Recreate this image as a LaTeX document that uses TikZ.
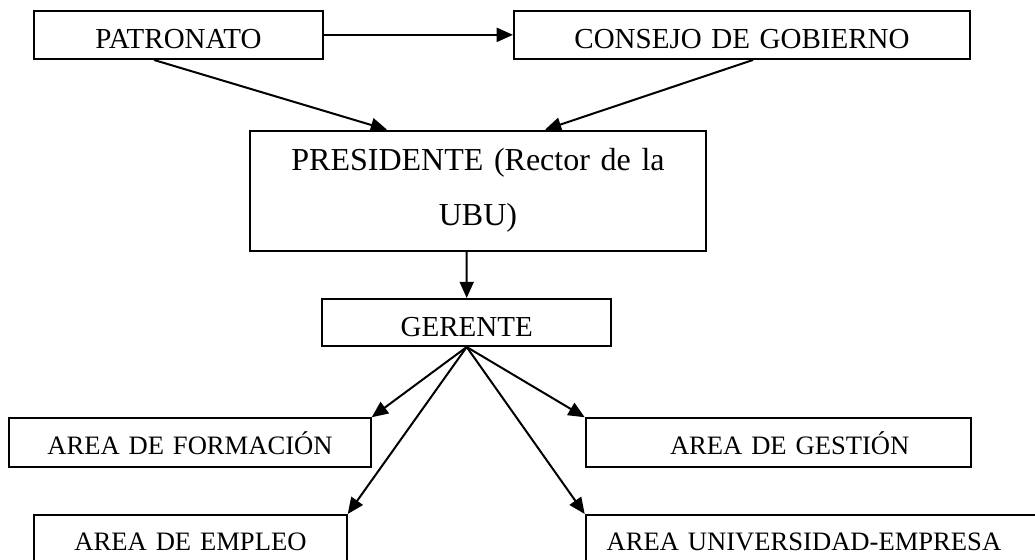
\documentclass[tikz,border=0pt]{standalone}
\usepackage{fontspec}
\setmainfont{Liberation Serif}
\usetikzlibrary{arrows.meta, calc}

\tikzset{
	orgbox/.style = {draw, line width = 0.8pt, inner sep = 0pt},
	toptext/.style = {font = \fontsize{11.6}{14}\selectfont},
	areatext/.style = {font = \fontsize{10.64}{13}\selectfont},
	orgarrow/.style = {line width = 0.8pt, -{Triangle[length = 6.5pt, width = 5.6pt]}}
}

\begin{document}
\begin{tikzpicture}[x = 0.4pt, y = -0.4pt]
		\useasboundingbox (0,0) rectangle (1035,560);
		\clip (0,0) rectangle (1035,560);
		\node [orgbox, toptext, align = center, text width = 115.6pt, text height = 15pt, text depth = 4.3pt] (patronato) at (178.5,34.85) {PATRONATO};
		\node [orgbox, toptext, align = center, text width = 182.4pt, text height = 15pt, text depth = 4.3pt] (consejo) at (742,34.85) {CONSEJO DE GOBIERNO};
		\node [orgbox, align = center, text width = 182.4pt, minimum height = 48pt, font = \fontsize{12.8}{22}\selectfont] (presidente) at (478,190.7) {PRESIDENTE (Rector de la\\UBU)};
		\node [orgbox, toptext, align = center, text width = 115.4pt, text height = 15.1pt, text depth = 3.7pt] (gerente) at (466.7,322.5) {GERENTE};
		\node [orgbox, areatext, align = center, text width = 144.6pt, text height = 14.3pt, text depth = 5.1pt] (formacion) at (190,442.5) {AREA DE FORMACIÓN};
		\node [orgbox, areatext, align = center, text width = 154pt, text height = 14.3pt, text depth = 5.1pt] (gestion) at (778.2,442.5) {\hspace*{9.2pt}AREA DE GESTIÓN};
		\node [orgbox, areatext, align = center, text width = 125pt, text height = 14pt, text depth = 5.2pt] (empleo) at (190.5,539) {AREA DE EMPLEO};
		\node [orgbox, areatext, align = left, text width = 188pt, text height = 14pt, text depth = 5.2pt] (universidad) at (820.7,539) {\hspace*{8.4pt}AREA UNIVERSIDAD-EMPRESA};
		\draw [orgarrow] (patronato.east) -- (consejo.west);
		\draw [orgarrow] ($(patronato.south)+(-24.5,0)$) -- ($(presidente.north)+(-91,0)$);
		\draw [orgarrow] ($(consejo.south)+(11,0)$) -- ($(presidente.north)+(67,0)$);
		\draw [orgarrow] ($(presidente.south)+(-11.3,0)$) -- (gerente.north);
		\draw [orgarrow] (gerente.south) -- (formacion.north east);
		\draw [orgarrow] (gerente.south) -- (empleo.north east);
		\draw [orgarrow] (gerente.south) -- (gestion.north west);
		\draw [orgarrow] (gerente.south) -- (universidad.north west);
	\end{tikzpicture}
\end{document}
